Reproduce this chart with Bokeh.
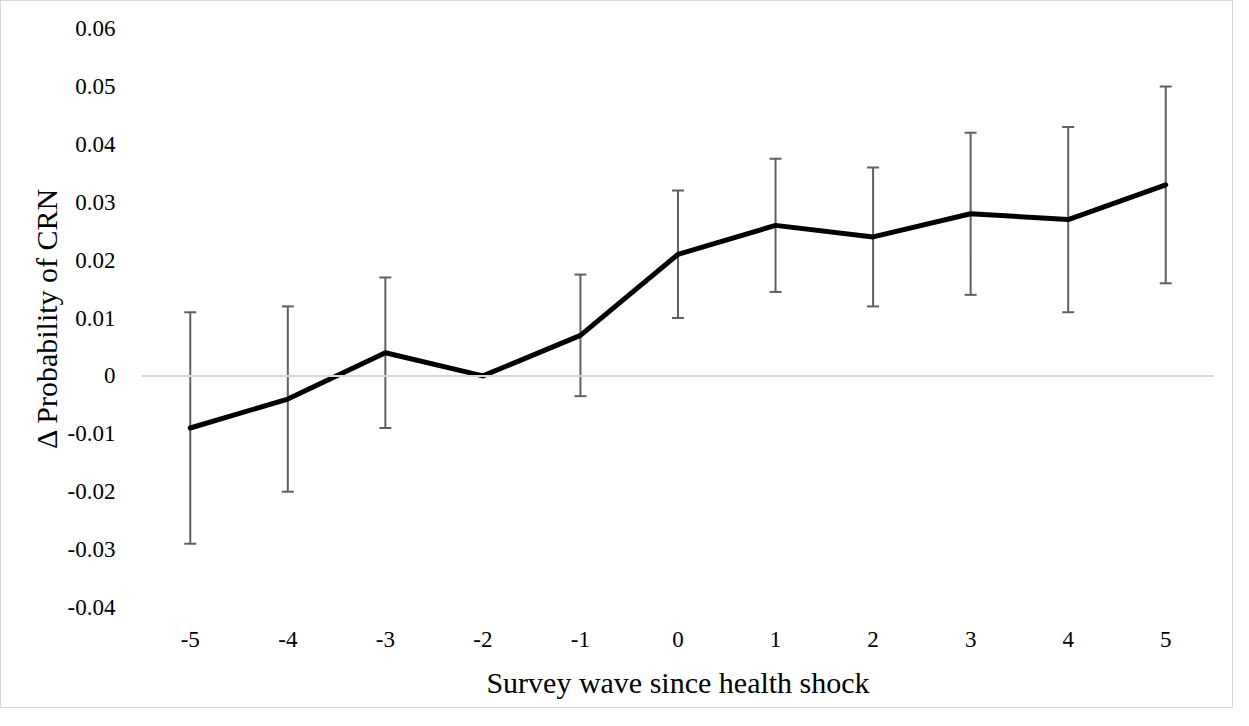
from bokeh.plotting import figure
from bokeh.models import ColumnDataSource, Whisker, TeeHead, Span, Range1d, FixedTicker, CustomJSTickFormatter
from bokeh.embed import file_html
from bokeh.resources import INLINE

# Data
waves = [-5, -4, -3, -2, -1, 0, 1, 2, 3, 4, 5]
estimate = [-0.009, -0.004, 0.004, 0.0, 0.007, 0.021, 0.026, 0.024, 0.028, 0.027, 0.033]
ci_low = [-0.029, -0.020, -0.009, None, -0.0035, 0.010, 0.0145, 0.012, 0.014, 0.011, 0.016]
ci_high = [0.011, 0.012, 0.017, None, 0.0175, 0.032, 0.0375, 0.036, 0.042, 0.043, 0.050]
y_ticks = [-0.04, -0.03, -0.02, -0.01, 0.0, 0.01, 0.02, 0.03, 0.04, 0.05, 0.06]

FONT = "Liberation Serif"

p = figure(width=1233, height=708, output_backend="svg", toolbar_location=None,
           x_range=Range1d(-5.5, 5.5), y_range=Range1d(-0.04, 0.06),
           min_border_left=140, min_border_right=20, min_border_top=27, min_border_bottom=102)
p.outline_line_color = None
p.xgrid.visible = False
p.ygrid.visible = False
p.background_fill_color = "white"
p.border_fill_color = "white"
p.styles = {"border": "1px solid #d9d9d9"}

# zero line
p.add_layout(Span(location=0, dimension="width", line_color="#d9d9d9", line_width=2))

# error bars
idx = [i for i in range(len(waves)) if ci_low[i] is not None]
err_src = ColumnDataSource(dict(x=[waves[i] for i in idx],
                                lo=[ci_low[i] for i in idx],
                                hi=[ci_high[i] for i in idx]))
EB = "#606060"
w = Whisker(base="x", lower="lo", upper="hi", source=err_src,
            line_color=EB, line_width=2,
            upper_head=TeeHead(size=12, line_color=EB, line_width=2),
            lower_head=TeeHead(size=12, line_color=EB, line_width=2))
p.add_layout(w)

# main line
p.line(waves, estimate, line_color="black", line_width=5, line_join="round", line_cap="round")

# axes
p.xaxis.ticker = FixedTicker(ticks=waves)
p.xaxis.formatter = CustomJSTickFormatter(code="return tick.toString();")
p.yaxis.ticker = FixedTicker(ticks=y_ticks)
p.yaxis.formatter = CustomJSTickFormatter(code="return Math.abs(tick) < 1e-9 ? '0' : tick.toFixed(2);")
for ax in (p.xaxis[0], p.yaxis[0]):
    ax.axis_line_color = None
    ax.major_tick_line_color = None
    ax.minor_tick_line_color = None
    ax.major_label_text_font = FONT
    ax.major_label_text_font_size = "23px"
    ax.major_label_text_color = "black"
    ax.axis_label_text_font = FONT
    ax.axis_label_text_font_size = "30px"
    ax.axis_label_text_font_style = "normal"
    ax.axis_label_text_color = "black"

p.xaxis.axis_label = "Survey wave since health shock"
p.yaxis.axis_label = "Δ Probability of CRN"
p.xaxis.major_label_standoff = 18
p.yaxis.major_label_standoff = 20
p.xaxis.axis_label_standoff = 16
p.yaxis.axis_label_standoff = 2

open("out.html", "w").write(file_html(p, INLINE))
